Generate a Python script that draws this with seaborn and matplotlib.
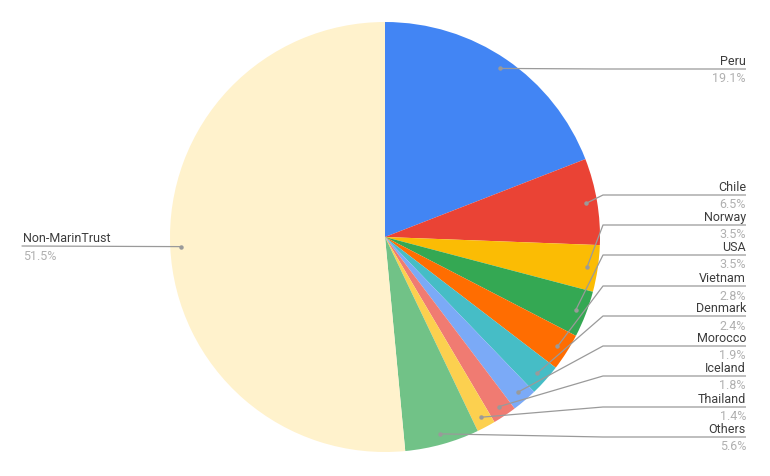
import numpy as np
import matplotlib
matplotlib.use("Agg")
import matplotlib.pyplot as plt
import seaborn as sns

# ─────────────────────────────────────────
# DATA
# ─────────────────────────────────────────
countries = ["Peru", "Chile", "Norway", "USA", "Vietnam", "Denmark",
             "Morocco", "Iceland", "Thailand", "Others", "Non-MarinTrust"]
shares = [19.1, 6.5, 3.5, 3.5, 2.8, 2.4, 1.9, 1.8, 1.4, 5.6, 51.5]
colors = ["#4285F4", "#EA4335", "#FBBC04", "#34A853", "#FF6D01", "#46BDC6",
          "#7BAAF7", "#F07B72", "#FCD04F", "#71C287", "#FFF2CC"]

# label rows (pixel y from top) for the right-hand column
right_rows = [70, 196, 226, 256, 287, 317, 347, 377, 408, 438]
left_row = 247

sns.set_theme(style="white")
plt.rcParams["font.family"] = ["Roboto", "DejaVu Sans"]

W, H = 770, 477
CX, CY, R = 385, H - 238, 215

fig = plt.figure(figsize=(W / 100, H / 100), dpi=100)
ax = fig.add_axes([0, 0, 1, 1])
ax.set_xlim(0, W)
ax.set_ylim(0, H)
ax.set_aspect("equal")
ax.axis("off")

wedges, _ = ax.pie(shares, colors=colors, startangle=90, counterclock=False,
                   center=(CX, CY), radius=R, wedgeprops=dict(linewidth=0))
ax.set_xlim(0, W)
ax.set_ylim(0, H)

line_c = "#9a9a9a"
name_c = "#3c3c3c"
pct_c = "#b0b0b0"
fs = 9

for i, (w, name, val) in enumerate(zip(wedges, countries, shares)):
    mid = np.deg2rad((w.theta1 + w.theta2) / 2)
    dx = CX + 0.95 * R * np.cos(mid)
    dy = CY + 0.95 * R * np.sin(mid)
    if i < len(right_rows):
        ly = H - right_rows[i]
        ax.plot([dx, 603, 746], [dy, ly, ly], color=line_c, lw=0.9,
                solid_capstyle="butt")
        ax.plot(dx, dy, "o", ms=2.2, color=line_c)
        ax.text(746, ly + 2, name, ha="right", va="bottom", fontsize=fs, color=name_c)
        ax.text(746, ly - 2.5, f"{val}%", ha="right", va="top", fontsize=fs, color=pct_c)
    else:
        ly = H - left_row
        ax.plot([dx, 22], [dy, ly], color=line_c, lw=0.9)
        ax.plot(dx, dy, "o", ms=2.2, color=line_c)
        ax.text(23, ly + 2, name, ha="left", va="bottom", fontsize=fs, color=name_c)
        ax.text(23, ly - 2.5, f"{val}%", ha="left", va="top", fontsize=fs, color=pct_c)

fig.savefig("out.png", dpi=100, facecolor="white")
